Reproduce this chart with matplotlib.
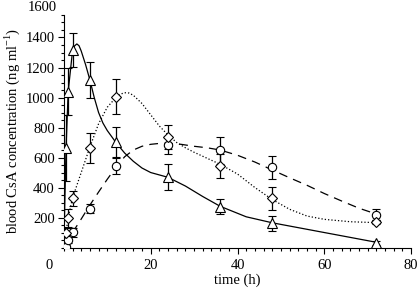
import matplotlib
matplotlib.use('Agg')
import matplotlib.pyplot as plt
from matplotlib.ticker import MultipleLocator

plt.rcParams['font.family'] = ['Liberation Serif', 'DejaVu Serif']
plt.rcParams['mathtext.fontset'] = 'custom'
plt.rcParams['mathtext.rm'] = 'Liberation Serif'

# measured points (time in h, CsA in ng/ml, +/- error)
t_pts = [0.5, 1, 2, 6, 12, 24, 36, 48, 72]
tri_y = [661, 1040, 1317, 1117, 705, 472, 272, 161, 32]
tri_err = [220, 155, 115, 118, 100, 88, 50, 48, 12]
dia_y = [100, 200, 330, 665, 1005, 739, 545, 328, 170]
dia_err = [30, 60, 50, 100, 117, 80, 80, 78, 15]
cir_y = [5, 50, 103, 258, 545, 683, 650, 535, 220]
cir_err = [10, 20, 30, 30, 55, 60, 90, 77, 35]

# fitted curves
solid_t = [0, 0.5, 1, 2, 2.5, 3, 3.5, 4, 5, 6, 7, 8, 9, 10, 12, 14, 16, 18, 20,
           24, 28, 32, 36, 42, 48, 60, 72]
solid_v = [0, 661, 1040, 1310, 1345, 1357, 1345, 1310, 1220, 1117, 1000, 900, 830,
           780, 700, 630, 575, 530, 500, 468, 410, 340, 275, 205, 165, 100, 35]
dot_t = [0.5, 1, 2, 4, 6, 8, 10, 12, 13, 14, 15, 16, 18, 20, 22, 24, 26, 28, 30,
         33, 36, 40, 44, 48, 52, 56, 60, 66, 72]
dot_v = [100, 200, 330, 500, 670, 825, 935, 1000, 1022, 1032, 1030, 1015, 960, 885,
         810, 750, 700, 665, 635, 595, 555, 490, 400, 320, 255, 210, 188, 172, 166]
dash_t = [2, 4, 6, 8, 10, 12, 14, 16, 18, 20, 22, 24, 27, 30, 33, 36, 40, 44, 48,
          52, 56, 60, 64, 68, 72]
dash_v = [100, 190, 283, 370, 455, 535, 605, 650, 675, 688, 694, 695, 688, 675, 665,
          650, 615, 570, 517, 465, 415, 360, 310, 262, 223]

fig = plt.figure(figsize=(4.2, 2.94), dpi=100)
ax = fig.add_axes([0.152, 0.158, 0.827, 0.791])

ax.plot(solid_t, solid_v, '-', color='black', lw=0.9, zorder=2)
ax.plot(dot_t, dot_v, ':', color='black', lw=0.9, zorder=2)
ax.plot(dash_t, dash_v, '--', color='black', lw=0.9, dashes=(7, 5), zorder=2)

style = dict(color='black', ecolor='black', elinewidth=0.9, capsize=2.7, capthick=0.9,
             ls='none', mfc='white', mec='black', mew=0.8, zorder=3)
ax.errorbar(t_pts, cir_y, yerr=cir_err, marker='o', ms=6, **style)
ax.errorbar(t_pts, dia_y, yerr=dia_err, marker='D', ms=5.5, **style)
ax.errorbar(t_pts, tri_y, yerr=tri_err, marker='^', ms=7, **style)

ax.set_xlim(0, 80)
ax.set_ylim(0, 1550)
ax.set_xticks([20, 40, 60, 80])
ax.set_yticks([200, 400, 600, 800, 1000, 1200, 1400])
ax.xaxis.set_minor_locator(MultipleLocator(2))
ax.yaxis.set_minor_locator(MultipleLocator(50))
ax.tick_params(which='major', direction='out', length=4.5, width=0.8, labelsize=10.5, pad=2)
ax.tick_params(which='minor', direction='out', length=2.5, width=0.8)
ax.tick_params(axis='x', pad=4)
for side in ['top', 'right']:
    ax.spines[side].set_visible(False)
for side in ['left', 'bottom']:
    ax.spines[side].set_linewidth(0.8)

# odd extra labels in the original: "1600" above the axis end, "0" at the origin
ax.text(-1.6, 1600, '1600', ha='right', va='center', fontsize=10.5, clip_on=False)
ax.text(-3.4, -120, '0', ha='center', va='center', fontsize=10.5, clip_on=False)

ax.set_xlabel('time (h)', fontsize=10.5, labelpad=0.5)
ax.set_ylabel(r'blood CsA concentration (ng ml$^{\mathrm{−1}}$)', fontsize=10.5, labelpad=3)

fig.savefig('out.png', dpi=100)
